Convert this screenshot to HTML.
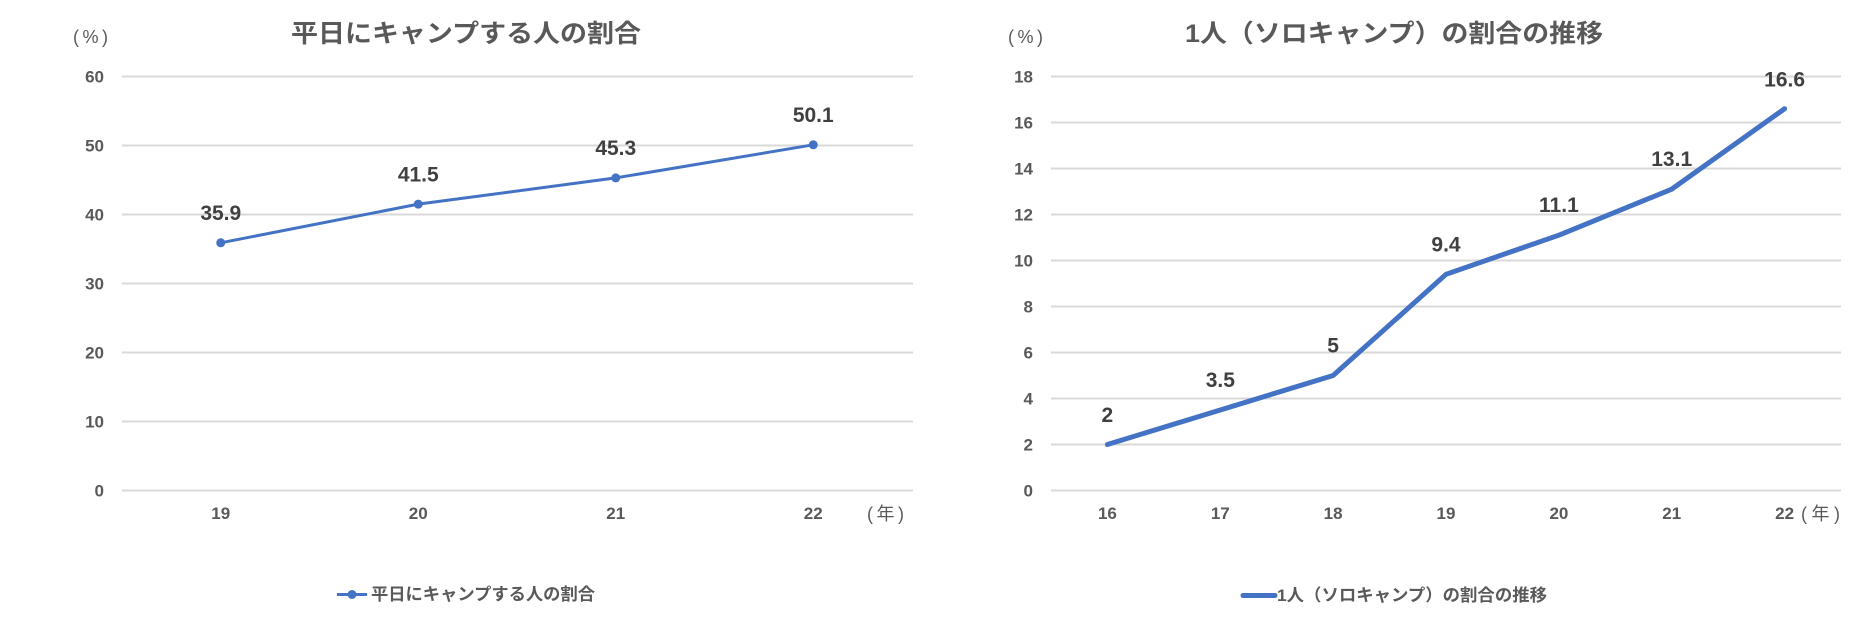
<!DOCTYPE html>
<html>
<head>
<meta charset="utf-8">
<style>
html,body{margin:0;padding:0;background:#fff;}
svg{display:block;}
.t{font-family:"Liberation Sans","Noto Sans CJK JP",sans-serif;}
</style>
</head>
<body>
<svg width="1858" height="619" viewBox="0 0 1858 619" xmlns="http://www.w3.org/2000/svg">
<rect width="1858" height="619" fill="#ffffff"/>

<!-- ===== LEFT CHART ===== -->
<g stroke="#d9d9d9" stroke-width="2">
  <line x1="122" y1="76.5" x2="913" y2="76.5"/>
  <line x1="122" y1="145.5" x2="913" y2="145.5"/>
  <line x1="122" y1="214.5" x2="913" y2="214.5"/>
  <line x1="122" y1="283.5" x2="913" y2="283.5"/>
  <line x1="122" y1="352.5" x2="913" y2="352.5"/>
  <line x1="122" y1="421.5" x2="913" y2="421.5"/>
  <line x1="122" y1="490.5" x2="913" y2="490.5"/>
</g>
<g class="t" font-size="17" font-weight="bold" fill="#595959" text-anchor="end">
  <text x="104" y="82.5">60</text>
  <text x="104" y="151.5">50</text>
  <text x="104" y="220.5">40</text>
  <text x="104" y="289.5">30</text>
  <text x="104" y="358.5">20</text>
  <text x="104" y="427.5">10</text>
  <text x="104" y="496.5">0</text>
</g>
<g class="t" font-size="17" font-weight="bold" fill="#595959" text-anchor="middle">
  <text x="220.75" y="519">19</text>
  <text x="418.25" y="519">20</text>
  <text x="615.75" y="519">21</text>
  <text x="813.25" y="519">22</text>
</g>
<!-- (年) left -->
<g class="t" font-size="18" fill="#595959">
  <text x="867" y="520">(</text>
  <text x="885.5" y="520" text-anchor="middle">年</text>
  <text x="904" y="520" text-anchor="end">)</text>
</g>
<!-- (%) left -->
<g class="t" font-size="18" fill="#595959">
  <text x="73" y="43">(</text>
  <text x="90.5" y="43" text-anchor="middle">%</text>
  <text x="108" y="43" text-anchor="end">)</text>
</g>
<text class="t" x="291" y="42" font-size="25" font-weight="bold" fill="#595959" textLength="350" lengthAdjust="spacingAndGlyphs">平日にキャンプする人の割合</text>

<polyline points="220.75,242.8 418.25,204.15 615.75,177.9 813.25,144.8" fill="none" stroke="#4472c4" stroke-width="3" stroke-linejoin="round" stroke-linecap="round"/>
<g fill="#4472c4">
  <circle cx="220.75" cy="242.8" r="4.5"/>
  <circle cx="418.25" cy="204.15" r="4.5"/>
  <circle cx="615.75" cy="177.9" r="4.5"/>
  <circle cx="813.25" cy="144.8" r="4.5"/>
</g>
<g class="t" font-size="21" font-weight="bold" fill="#404040" text-anchor="middle">
  <text x="220.75" y="220">35.9</text>
  <text x="418.25" y="181.5">41.5</text>
  <text x="615.75" y="155">45.3</text>
  <text x="813.25" y="122">50.1</text>
</g>

<!-- legend left -->
<line x1="337" y1="594.5" x2="367" y2="594.5" stroke="#4472c4" stroke-width="3"/>
<circle cx="352" cy="594.5" r="4.5" fill="#4472c4"/>
<text class="t" x="371" y="600" font-size="17" font-weight="bold" fill="#595959" textLength="224" lengthAdjust="spacingAndGlyphs">平日にキャンプする人の割合</text>

<!-- ===== RIGHT CHART ===== -->
<g stroke="#d9d9d9" stroke-width="2">
  <line x1="1051" y1="76.5" x2="1841" y2="76.5"/>
  <line x1="1051" y1="122.5" x2="1841" y2="122.5"/>
  <line x1="1051" y1="168.5" x2="1841" y2="168.5"/>
  <line x1="1051" y1="214.5" x2="1841" y2="214.5"/>
  <line x1="1051" y1="260.5" x2="1841" y2="260.5"/>
  <line x1="1051" y1="306.5" x2="1841" y2="306.5"/>
  <line x1="1051" y1="352.5" x2="1841" y2="352.5"/>
  <line x1="1051" y1="398.5" x2="1841" y2="398.5"/>
  <line x1="1051" y1="444.5" x2="1841" y2="444.5"/>
  <line x1="1051" y1="490.5" x2="1841" y2="490.5"/>
</g>
<g class="t" font-size="17" font-weight="bold" fill="#595959" text-anchor="end">
  <text x="1033" y="82.5">18</text>
  <text x="1033" y="128.5">16</text>
  <text x="1033" y="174.5">14</text>
  <text x="1033" y="220.5">12</text>
  <text x="1033" y="266.5">10</text>
  <text x="1033" y="312.5">8</text>
  <text x="1033" y="358.5">6</text>
  <text x="1033" y="404.5">4</text>
  <text x="1033" y="450.5">2</text>
  <text x="1033" y="496.5">0</text>
</g>
<g class="t" font-size="17" font-weight="bold" fill="#595959" text-anchor="middle">
  <text x="1107.4" y="519">16</text>
  <text x="1220.3" y="519">17</text>
  <text x="1333.1" y="519">18</text>
  <text x="1446" y="519">19</text>
  <text x="1558.9" y="519">20</text>
  <text x="1671.7" y="519">21</text>
  <text x="1784.6" y="519">22</text>
</g>
<!-- (年) right -->
<g class="t" font-size="18" fill="#595959">
  <text x="1801" y="520">(</text>
  <text x="1820.5" y="520" text-anchor="middle">年</text>
  <text x="1840" y="520" text-anchor="end">)</text>
</g>
<!-- (%) right -->
<g class="t" font-size="18" fill="#595959">
  <text x="1008" y="43">(</text>
  <text x="1025.5" y="43" text-anchor="middle">%</text>
  <text x="1043" y="43" text-anchor="end">)</text>
</g>
<text class="t" x="1185" y="42" font-size="25" font-weight="bold" fill="#595959" textLength="418" lengthAdjust="spacingAndGlyphs">1人（ソロキャンプ）の割合の推移</text>

<polyline points="1107.4,444.5 1220.3,410 1333.1,375.5 1446,274.3 1558.9,235.2 1671.7,189.2 1784.6,108.7" fill="none" stroke="#4472c4" stroke-width="5" stroke-linejoin="round" stroke-linecap="round"/>
<g class="t" font-size="21" font-weight="bold" fill="#404040" text-anchor="middle">
  <text x="1107.4" y="422">2</text>
  <text x="1220.3" y="387">3.5</text>
  <text x="1333.1" y="352.5">5</text>
  <text x="1446" y="251.5">9.4</text>
  <text x="1558.9" y="212">11.1</text>
  <text x="1671.7" y="166">13.1</text>
  <text x="1784.6" y="86.5">16.6</text>
</g>

<!-- legend right -->
<line x1="1243" y1="595.5" x2="1275" y2="595.5" stroke="#4472c4" stroke-width="5" stroke-linecap="round"/>
<text class="t" x="1277" y="601" font-size="17" font-weight="bold" fill="#595959" textLength="270" lengthAdjust="spacingAndGlyphs">1人（ソロキャンプ）の割合の推移</text>
</svg>
</body>
</html>
